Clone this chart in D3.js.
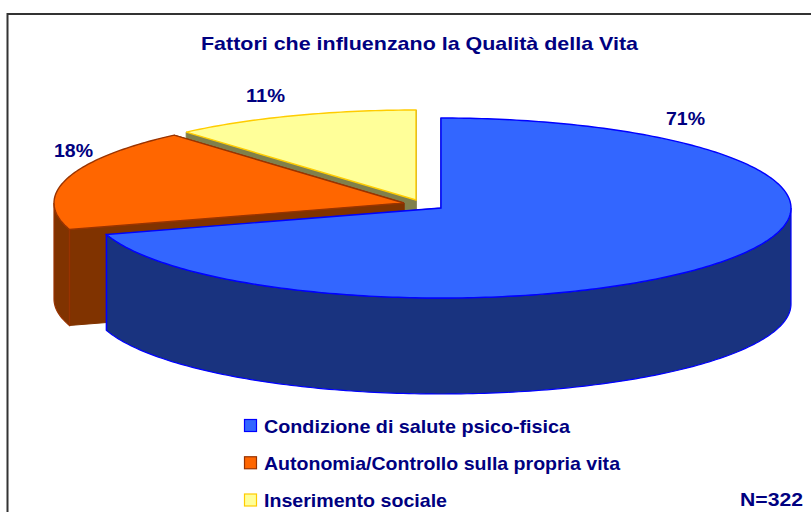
<!DOCTYPE html>
<html><head><meta charset="utf-8">
<script src="https://cdn.jsdelivr.net/npm/d3@7/dist/d3.min.js"></script>
<style>html,body{margin:0;padding:0;background:#fff;overflow:hidden}svg{display:block}text{font-family:"Liberation Sans",Arial,sans-serif;font-weight:bold;fill:#000080}</style>
</head><body><script>
const categories = ["Condizione di salute psico-fisica","Autonomia/Controllo sulla propria vita","Inserimento sociale"];
const values = [70.25, 18.35, 11.4];
const valueLabels = ["71%","18%","11%"];
const topColors = ["#3366FF","#FF6600","#FFFF99"];
const strokeColors = ["#0000FF","#993300","#FFCC00"];
const sideColors = ["#19337F","#803300","#80804C"];
const title = "Fattori che influenzano la Qualità della Vita";
const note = "N=322";

const W=811,H=512;
const svg=d3.select("body").append("svg").attr("width",W).attr("height",H);
svg.append("rect").attr("x",7.5).attr("y",14).attr("width",W+20).attr("height",H+20).attr("fill","#fff").attr("stroke","#333").attr("stroke-width",2);

const rx=350, ry=90, depth=96;
const apexes=[{x:441,y:208},{x:404,y:203},{x:416,y:200}];
const pie=d3.pie().value(d=>d).sort(null);
const arcs=pie(values);
const pt=(c,a,dy=0)=>[c.x+rx*Math.sin(a), c.y-ry*Math.cos(a)+dy];
const line=d3.line();
const sample=(a0,a1)=>{const n=Math.max(2,Math.ceil((a1-a0)*60));return d3.range(n+1).map(i=>a0+(a1-a0)*i/n);};
const g=svg.append("g");

[2,1,0].forEach(i=>{
  const d=arcs[i],c=apexes[i];
  [d.startAngle,d.endAngle].forEach(a=>{
    const p=pt(c,a),q=pt(c,a,depth),ap=[c.x,c.y],ab=[c.x,c.y+depth];
    g.append("path").attr("d",line([ap,p,q,ab])+"Z").attr("fill",sideColors[i]).attr("stroke",sideColors[i]).attr("stroke-width",1);
  });
  const a0=Math.max(d.startAngle,Math.PI/2),a1=Math.min(d.endAngle,Math.PI*1.5);
  if(a1>a0){
    const r=sample(a0,a1);
    const top=r.map(a=>pt(c,a)),bot=r.map(a=>pt(c,a,depth)).reverse();
    g.append("path").attr("d",line(top.concat(bot))+"Z").attr("fill",sideColors[i]).attr("stroke",strokeColors[i]).attr("stroke-width",1.2);
  }
  if(i===1){const e=pt(c,d.startAngle);g.append("path").attr("d",line([e,[e[0],e[1]+depth]])).attr("stroke",strokeColors[i]).attr("stroke-width",1.2).attr("fill","none");}
  if(i===0){const s=pt(c,d.endAngle);g.append("path").attr("d",line([s,[s[0],s[1]+depth]])).attr("stroke",strokeColors[i]).attr("stroke-width",1.4).attr("fill","none");}
  g.append("path").attr("d",line([[c.x,c.y]].concat(sample(d.startAngle,d.endAngle).map(a=>pt(c,a))))+"Z")
    .attr("fill",topColors[i]).attr("stroke",strokeColors[i]).attr("stroke-width",1.4).attr("stroke-linejoin","miter");
});

const fit=(sel,x,len)=>sel.attr("x",x).attr("textLength",len).attr("lengthAdjust","spacingAndGlyphs");
fit(svg.append("text").attr("y",50).attr("font-size",19).text(title),201,437);
const labelPos=[[666,125],[54,157],[246,102]];
valueLabels.forEach((t,i)=>fit(svg.append("text").attr("y",labelPos[i][1]).attr("font-size",19).text(t),labelPos[i][0],39));

const legendBase=d3.scalePoint().domain(categories).range([432.5,507]);
const legendLen=[306,356,183];
categories.forEach((t,i)=>{
  svg.append("rect").attr("x",244.5).attr("y",legendBase(t)-13).attr("width",12).attr("height",12).attr("fill",topColors[i]).attr("stroke",strokeColors[i]).attr("stroke-width",1.2);
  fit(svg.append("text").attr("y",legendBase(t)).attr("font-size",19).text(t),264,legendLen[i]);
});
fit(svg.append("text").attr("y",505.5).attr("font-size",19).text(note),740,63);
</script></body></html>
